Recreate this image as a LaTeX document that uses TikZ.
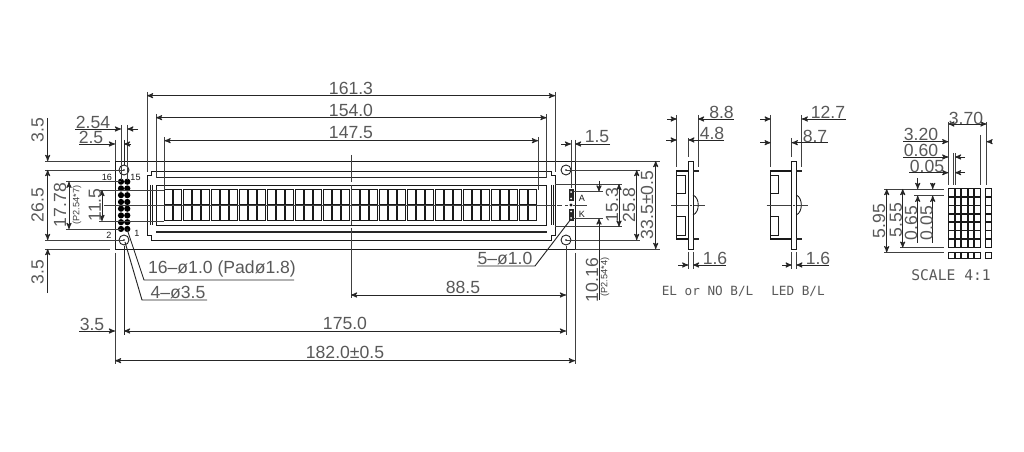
\documentclass[tikz,border=0pt]{standalone}
\usepackage{fontspec}
\setmainfont{Liberation Sans}
\setmonofont{DejaVu Sans Mono}
\usetikzlibrary{arrows,positioning}
\tikzset{
  part/.style={draw=black!90,line width=.65pt},
  thickpart/.style={draw=black!85,line width=1.4pt},
  extline/.style={draw=black!75,line width=.55pt},
  dimline/.style={draw=black!85,line width=.7pt},
  centerline/.style={draw=black!75,line width=.55pt},
  dimtext/.style={inner sep=0pt,text=black!65,font=\fontsize{13.2}{15}\selectfont},
  smalltext/.style={inner sep=0pt,text=black!75,font=\fontsize{6.9}{8}\selectfont},
  pintext/.style={inner sep=0pt,text=black!90,font=\fontsize{6.8}{8}\selectfont},
  viewtext/.style={inner sep=0pt,text=black!65,font=\ttfamily\fontsize{9.5}{11}\selectfont}
}
\begin{document}
\begin{tikzpicture}[>=stealth',x=.75pt,y=-.75pt]
\useasboundingbox (0,0) rectangle (1024,452);
\fill[white] (0,0) rectangle (1024,452);

\draw[part] (115,161) rectangle (575,249);
\draw[part] (151,171) -- (151,175) -- (147,175) -- (147,235) -- (151,235) -- (151,240) -- (551,240) -- (551,235) -- (555,235) -- (555,175) -- (551,175) -- (551,171) -- cycle;
\draw[part] (156,185) rectangle (546.5,225);
\draw[thickpart] (156,177.5) -- (546.5,177.5);
\draw[thickpart] (156,232) -- (546.5,232);
\draw[part] (150,185) -- (150,225) (152.5,185) -- (152.5,225);
\draw[part] (551,185) -- (551,225) (553.5,185) -- (553.5,225);

\foreach \c in {0,...,39}{
  \pgfmathsetmacro{\xa}{164.5+9.335*\c}
  \pgfmathsetmacro{\xb}{\xa+8}
  \draw[part,line width=.75pt] (\xa,190) rectangle (\xb,204.3);
  \draw[part,line width=.75pt] (\xa,205.7) rectangle (\xb,221);
}

\foreach \x in {124,566}
  \foreach \y in {170,240}{
    \draw[part,fill=white] (\x,\y) circle (5);
    \fill[black] (\x,\y) circle (.8);
  }

\foreach \x in {121,127.3}
  \foreach \r in {0,...,7}
    \fill[black] (\x,181.7+6.75*\r) circle (3.1);

\fill[black!85] (568.5,189) rectangle (573.5,201);
\fill[black!85] (568.5,209) rectangle (573.5,221);
\foreach \y in {192,198.5,211.5,218}
  \fill[white] (571,\y) circle (1);
\draw[part,fill=white] (571,205) circle (1);

\node[pintext] (pin16) at (107,177) {16};
\node[pintext] (pin15) at (135.5,177) {15};
\node[pintext] (pin2) at (109,235) {2};
\node[pintext] (pin1) at (137,233.5) {1};
\node[pintext] (padA) at (582,198) {A};
\node[pintext] (padK) at (582,214) {K};

\draw[centerline] (351,155) -- (351,182) (351,185) -- (351,225) (351,228) -- (351,298);
\draw[centerline] (104,205) -- (555,205) (557,205) -- (562,205) (565,205) -- (568,205) (573,205) -- (587,205);

\draw[extline] (147,92) -- (147,172) (555,92) -- (555,172);
\draw[extline] (156,114) -- (156,178) (546.5,114) -- (546.5,178);
\draw[extline] (164.5,137) -- (164.5,190) (538,137) -- (538,190);
\draw[dimline,<->] (147,95.7) -- (555,95.7);
\draw[dimline,<->] (156,117.7) -- (546.5,117.7);
\draw[dimline,<->] (164.5,140.7) -- (538,140.7);
\node[dimtext] (w1613) at (351,88) {161.3};
\node[dimtext] (w1540) at (351,110) {154.0};
\node[dimtext] (w1475) at (351,133) {147.5};

\draw[extline] (45,161) -- (110,161) (45,249) -- (110,249);
\draw[extline] (45,170) -- (124,170) (45,240) -- (124,240);
\draw[extline] (66,181.7) -- (121,181.7) (66,229) -- (121,229);
\draw[extline] (99,190) -- (164,190) (99,221) -- (164,221);
\draw[dimline,->] (47.7,118) -- (47.7,161);
\draw[dimline,->] (47.7,293) -- (47.7,249);
\draw[dimline,<->] (47.7,170) -- (47.7,240);
\draw[dimline,<->] (69,181.7) -- (69,229);
\draw[dimline,<->] (102,190) -- (102,221);
\node[dimtext,rotate=90] (h35a) at (37.5,130) {3.5};
\node[dimtext,rotate=90] (h265) at (37.5,205) {26.5};
\node[dimtext,rotate=90] (h35b) at (37.5,272) {3.5};
\node[dimtext,rotate=90] (h1778) at (60,205) {17.78};
\node[smalltext,rotate=90] (p7) at (77,205) {(P2.54*7)};
\node[dimtext,rotate=90] (h115) at (95,205) {11.5};

\draw[extline] (121,125) -- (121,180) (127.3,125) -- (127.3,180);
\draw[extline] (115,140) -- (115,161);
\draw[dimline] (124,140) -- (124,165);
\draw[dimline,->] (75,129) -- (121,129);
\draw[dimline,->] (138,129) -- (127.3,129);
\draw[dimline,->] (79,144) -- (115,144);
\draw[dimline,->] (131,144) -- (124,144);
\node[dimtext] (w254) at (93,122) {2.54};
\node[dimtext] (w25) at (91,137.5) {2.5};

\draw[dimline] (127,229) -- (144,280) -- (294,280);
\draw[dimline] (125,242) -- (142,300) -- (207,300);
\node[dimtext] (pads) at (222,269) {16–ø1.0 (Padø1.8)};
\node[dimtext] (holes) at (178,293) {4–ø3.5};

\draw[extline] (115,253) -- (115,364) (575,253) -- (575,364);
\draw[dimline] (124,246) -- (124,335);
\draw[extline] (566,246) -- (566,335);
\draw[dimline,->] (79,331) -- (115,331);
\draw[dimline,<->] (124,331) -- (566,331);
\draw[dimline,<->] (115,360.7) -- (575,360.7);
\draw[dimline,<->] (351,295) -- (566,295);
\node[dimtext] (w35) at (92,324) {3.5};
\node[dimtext] (w1750) at (345,323) {175.0};
\node[dimtext] (w1820) at (345,352) {182.0±0.5};
\node[dimtext] (w885) at (463,287) {88.5};

\draw[extline] (575,140) -- (575,161);
\draw[extline] (571,140) -- (571,188);
\draw[dimline,->] (561,144) -- (571,144);
\draw[dimline,->] (610,144) -- (575,144);
\node[dimtext] (w15) at (597,137) {1.5};

\draw[extline] (575,161) -- (660,161) (575,249) -- (660,249);
\draw[extline] (566,170) -- (640,170) (566,240) -- (640,240);
\draw[extline] (555,184) -- (622,184) (555,226.7) -- (622,226.7);
\draw[extline] (574,191.5) -- (603,191.5) (574,218.5) -- (603,218.5);
\draw[dimline,->] (599,181) -- (599,191.5);
\draw[dimline,->] (599,300) -- (599,218.5);
\draw[dimline,<->] (619,184) -- (619,226.7);
\draw[dimline,<->] (636.7,170) -- (636.7,240);
\draw[dimline,<->] (655.7,161) -- (655.7,249);
\node[dimtext,rotate=90] (h153) at (612,205) {15.3};
\node[dimtext,rotate=90] (h258) at (629,205) {25.8};
\node[dimtext,rotate=90] (h335) at (647,205) {33.5±0.5};
\node[dimtext,rotate=90] (h1016) at (592,280) {10.16};
\node[smalltext,rotate=90] (p4) at (605,277) {(P2.54*4)};

\draw[dimline] (571,219) -- (535,266) -- (477,266);
\node[dimtext] (pins) at (505,259) {5–ø1.0};

\draw[part] (688.3,161) rectangle (693,249.3);
\draw[part,line width=.9pt] (688.3,171) -- (676.7,171) -- (676.7,239) -- (688.3,239);
\draw[part] (676.7,175) -- (685,175) -- (685,193) -- (676.7,193);
\draw[part] (676.7,216.7) -- (685,216.7) -- (685,235) -- (676.7,235);
\draw[thickpart] (693,171) -- (699,171) (693,239) -- (699,239);
\draw[part] (693,195) .. controls (700,198) and (700,212) .. (693,215);
\draw[centerline] (671,205) -- (688,205) (690,205) -- (692,205) (694,205) -- (705,205);

\draw[part] (791.7,161) rectangle (796.3,249.3);
\draw[part,line width=.9pt] (791.7,171) -- (770.7,171) -- (770.7,239) -- (791.7,239);
\draw[part] (770.7,175) -- (778.3,175) -- (778.3,193) -- (770.7,193);
\draw[part] (770.7,216.7) -- (778.3,216.7) -- (778.3,235) -- (770.7,235);
\draw[thickpart] (796.3,171) -- (802,171) (796.3,239) -- (802,239);
\draw[part] (796.3,195) .. controls (803,198) and (803,212) .. (796.3,215);
\draw[centerline] (766.7,205) -- (791,205) (793,205) -- (795,205) (797,205) -- (808,205);

\draw[extline] (676.7,115) -- (676.7,167) (698,115) -- (698,167) (688.3,138) -- (688.3,157);
\draw[dimline,->] (667,119) -- (676.7,119);
\draw[dimline,->] (734,119) -- (698,119);
\draw[dimline,->] (666,140) -- (676.7,140);
\draw[dimline,->] (724,140) -- (688.3,140);
\node[dimtext] (s88) at (721.5,112) {8.8};
\node[dimtext] (s48) at (712,133.5) {4.8};
\draw[extline] (688.3,252) -- (688.3,269) (693,252) -- (693,269);
\draw[dimline,->] (678,265) -- (688.3,265);
\draw[dimline,->] (726,265) -- (693,265);
\node[dimtext] (s16a) at (715,258) {1.6};
\node[viewtext] (viewEL) at (707.5,291) {EL or NO B/L};

\draw[extline] (770.7,115) -- (770.7,167) (801.7,115) -- (801.7,167) (791.7,138) -- (791.7,157);
\draw[dimline,->] (760,119) -- (770.7,119);
\draw[dimline,->] (846,119) -- (801.7,119);
\draw[dimline,->] (760,142.7) -- (770.7,142.7);
\draw[dimline,->] (827.7,142.7) -- (791.7,142.7);
\node[dimtext] (s127) at (828,112) {12.7};
\node[dimtext] (s87) at (815,136) {8.7};
\draw[extline] (791.7,252) -- (791.7,269) (796.3,252) -- (796.3,269);
\draw[dimline,->] (782,265) -- (791.7,265);
\draw[dimline,->] (829,265) -- (796.3,265);
\node[dimtext] (s16b) at (818,258) {1.6};
\node[viewtext] (viewLED) at (798,291) {LED B/L};

\foreach \c in {0,...,4}{
  \pgfmathsetmacro{\xa}{948.5+6.5*\c}
  \pgfmathsetmacro{\xb}{\xa+5.7}
  \foreach \r in {0,...,6}
    \draw[part,line width=.75pt] (\xa,189+8.4*\r) rectangle (\xb,196.8+8.4*\r);
  \draw[part] (\xa,252.3) rectangle (\xb,258);
}
\foreach \r in {0,...,6}
  \draw[part,line width=.75pt] (985,189+8.4*\r) rectangle (991.5,196.8+8.4*\r);
\draw[part] (985,252.3) rectangle (991.5,258);

\draw[extline] (948.3,122) -- (948.3,185) (986.5,122) -- (986.5,185);
\draw[extline] (980.7,135) -- (980.7,185);
\draw[extline] (953.7,153) -- (953.7,185) (955,153) -- (955,185);
\draw[dimline,<->] (948.3,124) -- (986.5,124);
\draw[dimline,->] (903,141.7) -- (948.3,141.7);
\draw[dimline,->] (991.7,141.7) -- (986.5,141.7);
\draw[dimline,->] (903,157) -- (948.3,157);
\draw[dimline,->] (965,157) -- (955,157);
\draw[dimline,->] (909,172.7) -- (948.3,172.7);
\draw[dimline,->] (965,172.7) -- (955,172.7);
\node[dimtext] (g370) at (966,118) {3.70};
\node[dimtext] (g320) at (921,134) {3.20};
\node[dimtext] (g060) at (921,150) {0.60};
\node[dimtext] (g005a) at (927,166) {0.05};

\draw[extline] (884,189) -- (944,189) (884,252.3) -- (944,252.3);
\draw[extline] (900,247.7) -- (944,247.7);
\draw[extline] (914,195.7) -- (944,195.7);
\draw[dimline,<->] (886.7,189) -- (886.7,252.3);
\draw[dimline,<->] (902.7,189) -- (902.7,247.7);
\draw[dimline,->] (917.7,178) -- (917.7,189);
\draw[dimline,->] (917.7,243) -- (917.7,195.7);
\draw[dimline,->] (932.7,183) -- (932.7,189);
\draw[dimline,->] (932.7,243) -- (932.7,195.7);
\node[dimtext,rotate=90] (g595) at (879,221) {5.95};
\node[dimtext,rotate=90] (g555) at (896,220) {5.55};
\node[dimtext,rotate=90] (g065) at (911,223) {0.65};
\node[dimtext,rotate=90] (g005b) at (926.5,223) {0.05};
\node[viewtext,font=\ttfamily\fontsize{11}{13}\selectfont] (scale) at (951,275) {SCALE 4:1};
\end{tikzpicture}
\end{document}
